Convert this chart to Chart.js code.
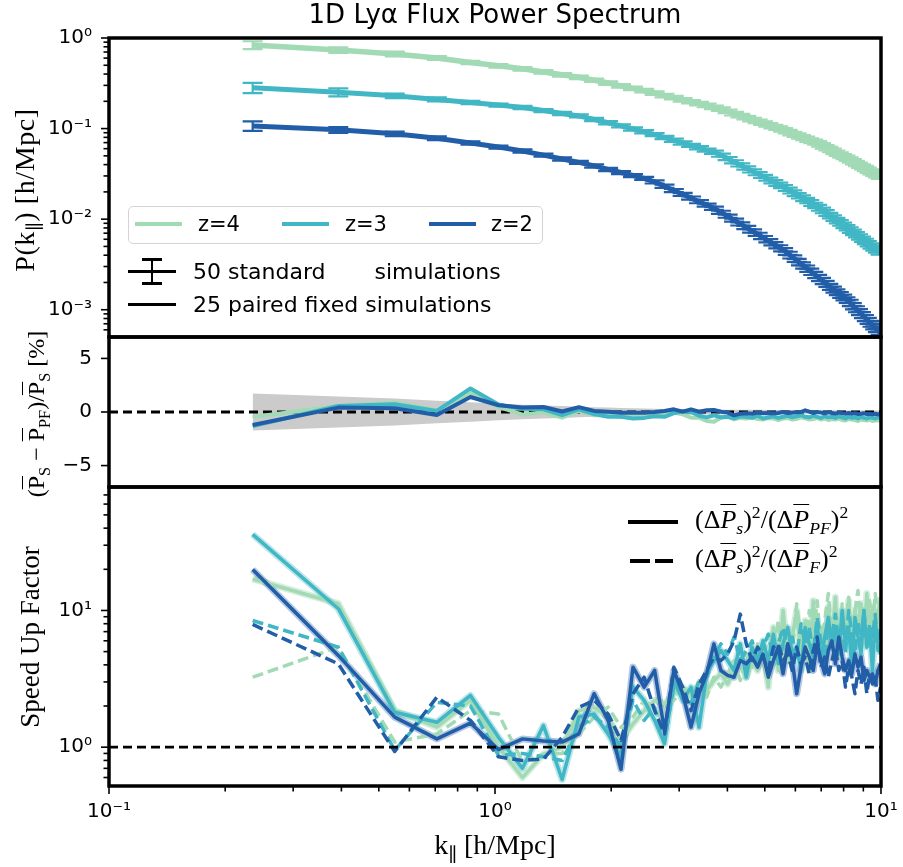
<!DOCTYPE html>
<html>
<head>
<meta charset="utf-8">
<title>1D Lyα Flux Power Spectrum</title>
<script src="https://cdn.jsdelivr.net/npm/chart.js@4.4.1/dist/chart.umd.min.js"></script>
<style>
  html, body { margin: 0; padding: 0; background: #fff; }
  #page { position: relative; width: 903px; height: 867px; overflow: hidden; font-family: "DejaVu Sans", sans-serif; color: #000; }
  canvas { position: absolute; left: 0; }
  .txt { position: absolute; white-space: pre; line-height: 1; z-index: 5; }
  .serif { font-family: "Liberation Serif", "DejaVu Serif", serif; }
  .rot { position: absolute; white-space: nowrap; line-height: 1; transform: translate(-50%, -50%) rotate(-90deg); z-index: 5; }
  .ln { position: absolute; z-index: 5; }
  .ob { text-decoration: overline; text-decoration-thickness: 1px; }
  sub, sup { font-size: 68%; line-height: 0; }
  #legBox { position: absolute; left: 128px; top: 206px; width: 415px; height: 38px; box-sizing: border-box;
            border: 1.5px solid #d4d4d4; border-radius: 5px; background: rgba(255,255,255,0.85); z-index: 4; }
</style>
</head>
<body>
<div id="page">
  <div class="txt" style="left:495px; top:1px; font-size:26px; transform:translateX(-50%);">1D Lyα Flux Power Spectrum</div>

  <canvas id="powerChart" width="903" height="345" style="top:0px"></canvas>
  <canvas id="diffChart" width="903" height="165" style="top:330px"></canvas>
  <canvas id="speedChart" width="903" height="387" style="top:480px"></canvas>

  <!-- y labels -->
  <div class="rot serif" style="left:25px; top:190px; font-size:28px; letter-spacing:0.6px;">P(k<sub>∥</sub>) [h/Mpc]</div>
  <div class="rot serif" style="left:36px; top:414px; font-size:24px;">(<span class="ob">P</span><sub>S</sub> − <span class="ob">P</span><sub>PF</sub>)/<span class="ob">P</span><sub>S</sub> [%]</div>
  <div class="rot serif" style="left:30px; top:637px; font-size:27px;">Speed Up Factor</div>
  <div class="txt serif" style="left:495px; top:831px; font-size:28px; transform:translateX(-50%);">k<sub>∥</sub> [h/Mpc]</div>

  <!-- redshift legend -->
  <div id="legBox"></div>
  <div class="ln" style="left:135px; top:222px; width:47px; height:4px; background:#a1dab4;"></div>
  <div class="txt" style="left:198px; top:214px; font-size:21px;">z=4</div>
  <div class="ln" style="left:282px; top:222px; width:47px; height:4px; background:#41b6c4;"></div>
  <div class="txt" style="left:345px; top:214px; font-size:21px;">z=3</div>
  <div class="ln" style="left:429px; top:222px; width:47px; height:4px; background:#225ea8;"></div>
  <div class="txt" style="left:491px; top:214px; font-size:21px;">z=2</div>

  <!-- simulation legend -->
  <div class="ln" style="left:128px; top:269.5px; width:48px; height:3.5px; background:#000;"></div>
  <div class="ln" style="left:150.75px; top:259px; width:2.5px; height:24px; background:#000;"></div>
  <div class="ln" style="left:142px; top:258px; width:20px; height:2.5px; background:#000;"></div>
  <div class="ln" style="left:142px; top:282px; width:20px; height:2.5px; background:#000;"></div>
  <div class="txt" style="left:193px; top:261px; font-size:22px;">50 standard       simulations</div>
  <div class="ln" style="left:128px; top:302.5px; width:48px; height:3.5px; background:#000;"></div>
  <div class="txt" style="left:193px; top:294px; font-size:22px;">25 paired fixed simulations</div>

  <!-- speed-up legend -->
  <div class="ln" style="left:628px; top:520px; width:50px; height:3.5px; background:#000;"></div>
  <div class="txt serif" style="left:695px; top:507px; font-size:26px;">(Δ<i class="ob">P</i><sub><i>s</i></sub>)<sup>2</sup>/(Δ<i class="ob">P</i><sub><i>PF</i></sub>)<sup>2</sup></div>
  <div class="ln" style="left:630px; top:559px; width:20px; height:3.5px; background:#000;"></div>
  <div class="ln" style="left:655px; top:559px; width:18px; height:3.5px; background:#000;"></div>
  <div class="txt serif" style="left:695px; top:546px; font-size:26px;">(Δ<i class="ob">P</i><sub><i>s</i></sub>)<sup>2</sup>/(Δ<i class="ob">P</i><sub><i>F</i></sub>)<sup>2</sup></div>
</div>

<script>
// k_parallel bins [h/Mpc]
const kPar = [0.2356, 0.3927, 0.5498, 0.7069, 0.8639, 1.0210, 1.1781, 1.3352, 1.4923, 1.6493,
  1.8064, 1.9635, 2.1206, 2.2777, 2.4347, 2.5918, 2.7489, 2.9060, 3.0631, 3.2201,
  3.3772, 3.5343, 3.6914, 3.8485, 4.0055, 4.1626, 4.3197, 4.4768, 4.6339, 4.7909,
  4.9480, 5.1051, 5.2622, 5.4193, 5.5763, 5.7334, 5.8905, 6.0476, 6.2046, 6.3617,
  6.5188, 6.6759, 6.8330, 6.9900, 7.1471, 7.3042, 7.4613, 7.6184, 7.7754, 7.9325,
  8.0896, 8.2467, 8.4038, 8.5608, 8.7179, 8.8750, 9.0321, 9.1892, 9.3462, 9.5033,
  9.6604, 9.8175, 9.9746];

// 1D flux power spectrum P(k) [h/Mpc]
const pZ4 = [0.837, 0.737, 0.666, 0.602, 0.537, 0.494, 0.457, 0.422, 0.393, 0.368,
  0.342, 0.318, 0.296, 0.278, 0.262, 0.247, 0.232, 0.220, 0.208, 0.198,
  0.189, 0.180, 0.172, 0.164, 0.155, 0.146, 0.139, 0.132, 0.126, 0.120,
  0.115, 0.110, 0.105, 0.101, 0.0968, 0.0925, 0.0883, 0.0847, 0.0812, 0.0780,
  0.0748, 0.0721, 0.0694, 0.0661, 0.0630, 0.0600, 0.0574, 0.0548, 0.0524, 0.0501,
  0.0480, 0.0460, 0.0440, 0.0421, 0.0403, 0.0386, 0.0371, 0.0355, 0.0340, 0.0327,
  0.0315, 0.0303, 0.0291];
const pZ3 = [0.283, 0.252, 0.230, 0.210, 0.194, 0.182, 0.171, 0.158, 0.147, 0.138,
  0.126, 0.116, 0.107, 0.0991, 0.0923, 0.0859, 0.0798, 0.0743, 0.0694, 0.0652,
  0.0614, 0.0579, 0.0548, 0.0509, 0.0467, 0.0430, 0.0397, 0.0367, 0.0341, 0.0318,
  0.0297, 0.0277, 0.0259, 0.0243, 0.0229, 0.0214, 0.0200, 0.0187, 0.0176, 0.0165,
  0.0156, 0.0146, 0.0138, 0.0129, 0.0121, 0.0113, 0.0106, 0.00995, 0.00936, 0.00881,
  0.00828, 0.00783, 0.00736, 0.00694, 0.00655, 0.00618, 0.00584, 0.00552, 0.00521, 0.00493,
  0.00468, 0.00445, 0.00422];
const pZ2 = [0.107, 0.0968, 0.0875, 0.0784, 0.0694, 0.0625, 0.0566, 0.0509, 0.0462, 0.0424,
  0.0387, 0.0354, 0.0327, 0.0303, 0.0282, 0.0258, 0.0231, 0.0207, 0.0188, 0.0171,
  0.0156, 0.0143, 0.0132, 0.0119, 0.0108, 0.00976, 0.00887, 0.00810, 0.00741, 0.00681,
  0.00627, 0.00578, 0.00535, 0.00495, 0.00460, 0.00420, 0.00383, 0.00351, 0.00321, 0.00296,
  0.00273, 0.00252, 0.00233, 0.00216, 0.00200, 0.00186, 0.00173, 0.00161, 0.00151, 0.00141,
  0.00132, 0.00124, 0.00114, 0.00105, 0.000977, 0.000906, 0.000841, 0.000781, 0.000726, 0.000676,
  0.000631, 0.000590, 0.000551];

// relative error of the 50 standard simulations
const errZ4 = [0.10, 0.07, 0.06, 0.05, 0.045, 0.045, 0.045, 0.045, 0.045, 0.045,
  0.045, 0.045, 0.045, 0.045, 0.045, 0.045, 0.045, 0.045, 0.045, 0.045,
  0.045, 0.045, 0.045, 0.045, 0.045, 0.045, 0.045, 0.045, 0.045, 0.045,
  0.045, 0.045, 0.045, 0.045, 0.045, 0.045, 0.045, 0.045, 0.045, 0.045,
  0.045, 0.045, 0.045, 0.045, 0.045, 0.045, 0.045, 0.045, 0.045, 0.045,
  0.045, 0.045, 0.045, 0.045, 0.045, 0.045, 0.045, 0.045, 0.045, 0.045,
  0.045, 0.045, 0.045];
const errZ3 = [0.13, 0.10, 0.06, 0.05, 0.04, 0.04, 0.04, 0.04, 0.04, 0.04,
  0.04, 0.04, 0.04, 0.04, 0.04, 0.04, 0.04, 0.04, 0.04, 0.04,
  0.04, 0.04, 0.04, 0.04, 0.04, 0.04, 0.04, 0.04, 0.04, 0.04,
  0.04, 0.04, 0.04, 0.04, 0.04, 0.04, 0.04, 0.04, 0.04, 0.04,
  0.04, 0.04, 0.04, 0.04, 0.04, 0.04, 0.04, 0.04, 0.04, 0.04,
  0.04, 0.04, 0.04, 0.04, 0.04, 0.04, 0.04, 0.04, 0.04, 0.04,
  0.04, 0.04, 0.04];
const errZ2 = [0.12, 0.075, 0.06, 0.05, 0.04, 0.04, 0.04, 0.04, 0.04, 0.04,
  0.04, 0.04, 0.04, 0.04, 0.04, 0.04, 0.04, 0.04, 0.04, 0.04,
  0.04, 0.04, 0.04, 0.04, 0.04, 0.04, 0.04, 0.04, 0.04, 0.04,
  0.04, 0.04, 0.04, 0.04, 0.04, 0.04, 0.04, 0.04, 0.04, 0.04,
  0.04, 0.04, 0.04, 0.04, 0.04, 0.04, 0.04, 0.04, 0.04, 0.04,
  0.04, 0.04, 0.04, 0.04, 0.04, 0.04, 0.04, 0.04, 0.04, 0.04,
  0.04, 0.04, 0.04];

// relative difference standard vs paired-fixed [%]
const diffZ4 = [-0.47, 0.56, 0.87, 0.16, 1.80, 0.47, -0.25, -0.03, -0.53, 0.10,
  -0.31, -0.31, -0.44, -0.31, -0.44, -0.31, -0.22, -0.06, -0.22, -0.53,
  -0.53, -0.84, -0.90, -0.53, -0.44, -0.69, -0.55, -0.60, -0.50, -0.65,
  -0.70, -0.55, -0.60, -0.75, -0.60, -0.55, -0.70, -0.65, -0.50, -0.60,
  -0.70, -0.65, -0.55, -0.70, -0.60, -0.75, -0.65, -0.70, -0.60, -0.75,
  -0.80, -0.65, -0.70, -0.75, -0.85, -0.70, -0.75, -0.80, -0.70, -0.85,
  -0.80, -0.75, -0.85];
const diffZ3 = [-1.30, 0.56, 0.72, 0.10, 2.20, 0.70, 0.30, 0.25, -0.30, 0.25,
  -0.20, -0.45, -0.45, -0.60, -0.55, -0.40, -0.45, -0.10, 0.05, 0.00,
  -0.35, -0.50, -0.30, -0.50, -0.45, -0.60, -0.40, -0.45, -0.55, -0.35,
  -0.60, -0.50, -0.40, -0.55, -0.45, -0.35, -0.50, -0.40, -0.30, -0.45,
  -0.50, -0.35, -0.45, -0.55, -0.40, -0.50, -0.45, -0.55, -0.40, -0.50,
  -0.60, -0.45, -0.55, -0.50, -0.60, -0.45, -0.55, -0.60, -0.50, -0.55,
  -0.60, -0.50, -0.55];
const diffZ2 = [-1.21, 0.41, 0.35, -0.28, 1.40, 0.63, 0.41, 0.47, 0.05, 0.45,
  0.10, 0.03, -0.06, -0.06, -0.06, 0.00, 0.09, 0.25, 0.03, 0.25,
  0.03, 0.16, 0.19, 0.03, -0.06, -0.31, -0.16, -0.12, -0.16, -0.06,
  -0.12, -0.09, -0.12, -0.09, 0.00, -0.09, -0.06, -0.03, 0.00, 0.16,
  0.03, -0.09, 0.00, -0.06, -0.12, -0.03, -0.09, -0.16, -0.06, -0.12,
  -0.16, -0.09, -0.16, -0.12, -0.19, -0.16, -0.12, -0.19, -0.16, -0.22,
  -0.16, -0.22, -0.25];
// 1-sigma scatter of the standard mean [%] (grey band)
const diffBand = [1.72, 1.45, 1.25, 1.05, 0.90, 0.78, 0.68, 0.60, 0.55, 0.50,
  0.45, 0.41, 0.38, 0.35, 0.33, 0.31, 0.29, 0.28, 0.27, 0.26,
  0.25, 0.24, 0.23, 0.23, 0.22, 0.22, 0.21, 0.21, 0.20, 0.20,
  0.20, 0.19, 0.19, 0.19, 0.18, 0.18, 0.18, 0.18, 0.17, 0.17,
  0.17, 0.17, 0.17, 0.16, 0.16, 0.16, 0.16, 0.16, 0.16, 0.15,
  0.15, 0.15, 0.15, 0.15, 0.15, 0.15, 0.15, 0.15, 0.14, 0.14,
  0.14, 0.14, 0.14];

// speed up factor, (dPs)^2/(dPpf)^2 (solid)
const speedPFZ4 = [17, 11.2, 1.85, 1.40, 2.2, 1.0, 0.6, 0.89, 1.0, 1.85,
  1.96, 1.66, 1.12, 1.48, 1.85, 2.2, 2.07, 2.46, 2.75, 2.32,
  2.9, 2.6, 3.07, 3.44, 2.9, 3.64, 4.3, 3.25, 4.3, 3.64,
  5.4, 2.75, 7.5, 3.64, 10, 4.3, 6.4, 10, 4.56, 8.4,
  3.64, 11.8, 5.7, 7.5, 4.3, 10.6, 6.4, 12.5, 4.8, 9.4,
  6.7, 11.8, 5.4, 10, 7.5, 11.2, 5.7, 13.3, 7.5, 10.6,
  6.4, 9.4, 12.5];
const speedPFZ3 = [36, 10.3, 1.80, 1.52, 2.39, 1.18, 0.70, 1.44, 0.58, 1.66,
  1.75, 1.25, 0.85, 2.75, 2.2, 1.57, 1.06, 3.07, 2.2, 2.75,
  1.40, 3.44, 4.3, 5.1, 4.3, 3.64, 5.7, 3.25, 5.4, 4.3,
  6.0, 4.3, 6.7, 4.07, 5.7, 7.5, 4.8, 5.4, 3.64, 7.5,
  5.7, 4.56, 8.0, 4.3, 6.4, 8.9, 5.4, 7.5, 4.8, 10,
  5.7, 7.5, 3.85, 8.9, 6.4, 4.8, 10, 5.4, 7.5, 3.64,
  8.4, 5.7, 4.8];
const speedPFZ2 = [19.9, 4.69, 1.66, 1.15, 1.50, 0.96, 1.15, 1.11, 1.09, 1.25,
  2.46, 1.57, 0.69, 3.85, 2.75, 3.64, 1.32, 3.64, 2.46, 1.40,
  2.46, 3.44, 5.7, 3.64, 3.35, 3.25, 4.3, 4.07, 4.56, 3.85,
  4.8, 3.25, 4.3, 5.4, 3.44, 5.7, 4.3, 2.46, 3.85, 5.4,
  4.56, 3.64, 5.7, 4.3, 3.44, 5.1, 6.0, 4.07, 6.4, 4.56,
  3.64, 4.3, 3.44, 4.8, 3.85, 4.56, 3.07, 3.64, 3.25, 3.44,
  2.9, 3.64, 4.07];
// speed up factor, (dPs)^2/(dPf)^2 (dashed)
const speedFZ4 = [3.25, 5.4, 1.09, 1.25, 1.85, 1.75, 0.78, 0.89, 0.9, 1.25,
  1.66, 1.96, 1.40, 1.66, 2.2, 1.57, 1.96, 2.2, 2.75, 2.46,
  3.07, 2.32, 3.25, 2.75, 3.44, 4.3, 3.07, 4.8, 3.85, 5.7,
  4.3, 6.7, 4.8, 8.4, 3.85, 7.5, 5.1, 11.2, 6.0, 4.3,
  10, 6.4, 11.8, 5.4, 8.4, 13.3, 6.0, 10, 4.56, 11.2,
  7.5, 12.5, 5.7, 10, 14, 6.7, 10.6, 5.4, 11.8, 7.5,
  13.3, 8.4, 11.2];
const speedFZ3 = [8.45, 5.39, 0.95, 2.13, 2.0, 0.87, 0.9, 0.85, 0.8, 1.4,
  1.66, 1.4, 1.0, 2.2, 1.57, 1.96, 1.12, 2.75, 2.46, 2.07,
  3.07, 3.25, 4.56, 5.7, 4.8, 6.4, 4.3, 5.1, 6.0, 4.3,
  5.4, 6.7, 4.56, 5.7, 7.5, 5.1, 6.4, 4.56, 8.0, 5.7,
  7.5, 4.8, 8.9, 6.0, 4.3, 8.0, 6.4, 9.4, 5.7, 7.5,
  4.8, 10, 6.7, 4.56, 8.4, 6.0, 10, 5.4, 8.0, 6.4,
  9.4, 5.1, 7.5];
const speedFZ2 = [7.9, 4.07, 0.93, 2.32, 1.57, 0.85, 0.80, 0.82, 1.18, 1.96,
  2.2, 1.75, 1.12, 2.46, 3.25, 1.85, 1.25, 3.85, 2.75, 1.85,
  2.9, 3.64, 4.56, 4.3, 4.8, 6.0, 9.4, 5.7, 4.3, 5.4,
  4.56, 3.64, 5.4, 5.7, 4.3, 4.8, 3.64, 5.4, 4.07, 4.56,
  3.44, 5.1, 6.4, 3.85, 4.56, 3.25, 4.3, 5.4, 3.64, 4.3,
  2.75, 3.85, 3.25, 2.46, 3.64, 2.9, 3.85, 2.46, 3.44, 2.9,
  3.25, 2.2, 2.75];

// axis limits and major ticks
const kRange = [0.1, 10];
const kTicks = [0.1, 1, 10];
const pTicks = [1, 0.1, 0.01, 0.001];
const diffTicks = [-5, 0, 5];
const speedTicks = [1, 10];

const colZ4 = '#a1dab4', colZ3 = '#41b6c4', colZ2 = '#225ea8';
const shadeZ4 = 'rgba(161,218,180,0.45)', shadeZ3 = 'rgba(65,182,196,0.35)', shadeZ2 = 'rgba(34,94,168,0.35)';

function pts(vals) {
  return kPar.map((k, i) => ({x: k, y: vals[i]}));
}
function flatLine(v) {
  return kRange.map(k => ({x: k, y: v}));
}

const supMap = {'-': '⁻', '0': '⁰', '1': '¹', '2': '²', '3': '³'};
function powLabel(v) {
  const e = Math.round(Math.log10(v));
  return '10' + String(e).split('').map(c => supMap[c]).join('');
}

const tickFont = {family: 'DejaVu Sans', size: 20};

// ticks (major + log minor) and thick frame
const axesFrame = {
  id: 'axesFrame',
  afterDraw(chart) {
    const ctx = chart.ctx, a = chart.chartArea;
    ctx.save();
    ctx.strokeStyle = '#000';
    ctx.lineWidth = 1.6;
    function tick(scale, v, len) {
      const p = scale.getPixelForValue(v);
      ctx.beginPath();
      if (scale.axis === 'y') { ctx.moveTo(a.left - len, p); ctx.lineTo(a.left, p); }
      else { ctx.moveTo(p, a.bottom); ctx.lineTo(p, a.bottom + len); }
      ctx.stroke();
    }
    const list = [chart.scales.y];
    if (chart.scales.x.options.display) list.push(chart.scales.x);
    list.forEach(s => {
      s.ticks.forEach(t => tick(s, t.value, 8));
      if (s.type === 'logarithmic') {
        for (let e = Math.floor(Math.log10(s.min)); e <= Math.ceil(Math.log10(s.max)); e++) {
          for (let m = 2; m < 10; m++) {
            const v = m * Math.pow(10, e);
            if (v > s.min && v < s.max) tick(s, v, 5.5);
          }
        }
      }
    });
    ctx.lineWidth = 3.5;
    ctx.strokeRect(a.left, a.top, a.right - a.left, a.bottom - a.top);
    ctx.restore();
  }
};

// error bars with caps for datasets carrying relErr
const errorBars = {
  id: 'errorBars',
  afterDatasetsDraw(chart) {
    const ctx = chart.ctx, ys = chart.scales.y, a = chart.chartArea;
    const capW = 10;
    ctx.save();
    ctx.beginPath();
    ctx.rect(a.left, a.top, a.right - a.left, a.bottom - a.top);
    ctx.clip();
    chart.data.datasets.forEach((ds, i) => {
      if (!ds.relErr) return;
      const meta = chart.getDatasetMeta(i);
      ctx.strokeStyle = ds.borderColor;
      ctx.lineWidth = 2.2;
      meta.data.forEach((pt, j) => {
        const v = ds.data[j].y, e = ds.relErr[j] * v;
        const y1 = ys.getPixelForValue(v + e), y2 = ys.getPixelForValue(v - e);
        ctx.beginPath();
        ctx.moveTo(pt.x, y1); ctx.lineTo(pt.x, y2);
        ctx.moveTo(pt.x - capW, y1); ctx.lineTo(pt.x + capW, y1);
        ctx.moveTo(pt.x - capW, y2); ctx.lineTo(pt.x + capW, y2);
        ctx.stroke();
      });
    });
    ctx.restore();
  }
};

function baseOptions(padTop, padBottom) {
  return {
    responsive: false,
    animation: false,
    events: [],
    layout: {padding: {left: 0, right: 22, top: padTop, bottom: padBottom}},
    elements: {point: {radius: 0}, line: {tension: 0, borderJoinStyle: 'round'}},
    plugins: {legend: {display: false}, tooltip: {enabled: false}, title: {display: false}}
  };
}

function hiddenX() {
  return {type: 'logarithmic', min: kRange[0], max: kRange[1], display: false};
}

function yAxis(type, min, max, tickVals, fmt) {
  return {
    type: type, min: min, max: max,
    grid: {display: false, drawTicks: false},
    border: {display: false},
    ticks: {font: tickFont, color: '#000', padding: 17, autoSkip: false, callback: fmt},
    afterBuildTicks: s => { s.ticks = tickVals.map(v => ({value: v})); },
    afterFit: s => { s.width = 109; s.paddingTop = 0; s.paddingBottom = 0; }
  };
}

// TOP PANEL: P(k)
const optP = baseOptions(38, 8);
optP.scales = {x: hiddenX(), y: yAxis('logarithmic', 5e-4, 1, pTicks, v => powLabel(v))};
new Chart(document.getElementById('powerChart'), {
  type: 'line',
  data: {
    datasets: [
      {data: pts(pZ2), borderColor: colZ2, borderWidth: 5, fill: false, relErr: errZ2},
      {data: pts(pZ3), borderColor: colZ3, borderWidth: 5, fill: false, relErr: errZ3},
      {data: pts(pZ4), borderColor: colZ4, borderWidth: 5.5, fill: false, relErr: errZ4}
    ]
  },
  options: optP,
  plugins: [errorBars, axesFrame]
});

// MIDDLE PANEL: relative difference
const optD = baseOptions(7, 8);
optD.scales = {x: hiddenX(), y: yAxis('linear', -7, 7, diffTicks, v => (v < 0 ? '−' + Math.abs(v) : String(v)))};
new Chart(document.getElementById('diffChart'), {
  type: 'line',
  data: {
    datasets: [
      {data: pts(diffZ2), borderColor: colZ2, borderWidth: 4, fill: false},
      {data: pts(diffZ3), borderColor: colZ3, borderWidth: 4, fill: false},
      {data: pts(diffZ4), borderColor: colZ4, borderWidth: 4, fill: false},
      {data: flatLine(0), borderColor: '#000', borderWidth: 2.8, borderDash: [9, 5], fill: false},
      {data: pts(diffBand), borderWidth: 0, borderColor: 'rgba(0,0,0,0)', fill: false},
      {data: pts(diffBand.map(v => -v)), borderWidth: 0, borderColor: 'rgba(0,0,0,0)', fill: '-1', backgroundColor: '#cbcbcb'}
    ]
  },
  options: optD,
  plugins: [axesFrame]
});

// BOTTOM PANEL: speed up factor
const optS = baseOptions(7, 0);
optS.scales = {
  x: {
    type: 'logarithmic', min: kRange[0], max: kRange[1],
    grid: {display: false, drawTicks: false},
    border: {display: false},
    ticks: {font: tickFont, color: '#000', padding: 14, autoSkip: false, maxRotation: 0, callback: v => powLabel(v)},
    afterBuildTicks: s => { s.ticks = kTicks.map(v => ({value: v})); },
    afterFit: s => { s.height = 81; s.paddingLeft = 0; s.paddingRight = 0; }
  },
  y: yAxis('logarithmic', 0.52, 80, speedTicks, v => powLabel(v))
};
const dashPat = [11, 5];
new Chart(document.getElementById('speedChart'), {
  type: 'line',
  data: {
    datasets: [
      {data: flatLine(1), borderColor: '#000', borderWidth: 2.8, borderDash: [9, 5], fill: false},
      {data: pts(speedFZ2), borderColor: colZ2, borderWidth: 3.5, borderDash: dashPat, fill: false},
      {data: pts(speedPFZ2), borderColor: colZ2, borderWidth: 3.5, fill: false},
      {data: pts(speedFZ3), borderColor: colZ3, borderWidth: 3.5, borderDash: dashPat, fill: false},
      {data: pts(speedPFZ3), borderColor: colZ3, borderWidth: 3.5, fill: false},
      {data: pts(speedFZ4), borderColor: colZ4, borderWidth: 3.5, borderDash: dashPat, fill: false},
      {data: pts(speedPFZ4), borderColor: colZ4, borderWidth: 3.5, fill: false},
      {data: pts(speedPFZ2), borderColor: shadeZ2, borderWidth: 7, fill: false},
      {data: pts(speedPFZ3), borderColor: shadeZ3, borderWidth: 7, fill: false},
      {data: pts(speedPFZ4), borderColor: shadeZ4, borderWidth: 7, fill: false}
    ]
  },
  options: optS,
  plugins: [axesFrame]
});
</script>
</body>
</html>
